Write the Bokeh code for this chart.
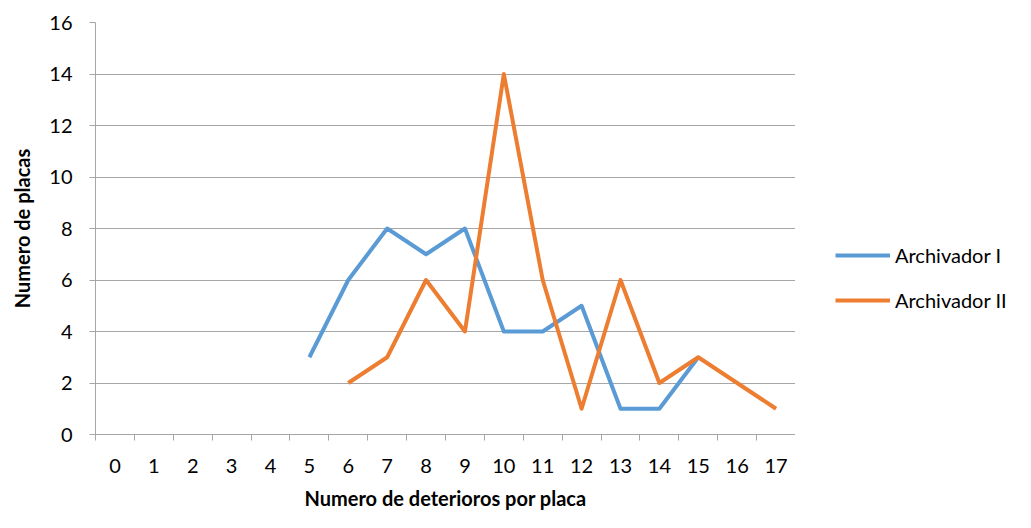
import numpy as np
from bokeh.plotting import figure
from bokeh.layouts import row
from bokeh.models import Range1d, FixedTicker, Legend, LegendItem, ColumnDataSource
from bokeh.embed import file_html
from bokeh.resources import INLINE

categories = list(range(0, 18))
tick_labels = [str(c) for c in categories]
series_names = ["Archivador I", "Archivador II"]
archivador_1 = [None, None, None, None, None, 3, 6, 8, 7, 8, 4, 4, 5, 1, 1, 3, None, None]
archivador_2 = [None, None, None, None, None, None, 2, 3, 6, 4, 14, 6, 1, 6, 2, 3, 2, 1]
y_ticks = [0, 2, 4, 6, 8, 10, 12, 14, 16]

FONT = "Lato"
GRID = "#a6a6a6"
COLORS = ["#5B9BD5", "#ED7D31"]

def arr(v):
    return np.array([np.nan if a is None else a for a in v], dtype=float)

p = figure(width=795, height=512, output_backend="svg", toolbar_location=None,
           x_range=Range1d(-0.5, 17.5), y_range=Range1d(0, 16),
           min_border_left=95, min_border_right=0, min_border_top=22, min_border_bottom=78)
p.outline_line_color = None
p.background_fill_color = "white"

src = ColumnDataSource(dict(x=categories, a=arr(archivador_1), b=arr(archivador_2)))
p.line("x", "a", source=src, line_color=COLORS[0], line_width=4, line_join="round")
p.line("x", "b", source=src, line_color=COLORS[1], line_width=4, line_join="round")

# x axis
xt = FixedTicker(ticks=categories, minor_ticks=[c - 0.5 for c in categories] + [17.5])
p.xaxis.ticker = xt
p.xaxis.major_label_overrides = {c: l for c, l in zip(categories, tick_labels)}
p.xaxis.major_tick_line_color = None
p.xaxis.major_tick_out = 0
p.xaxis.major_tick_in = 0
p.xaxis.minor_tick_line_color = GRID
p.xaxis.minor_tick_out = 6
p.xaxis.minor_tick_in = 0
p.xaxis.axis_line_color = GRID
p.xaxis.major_label_standoff = 18
p.xaxis.axis_label = "Numero de deterioros por placa"
p.xaxis.axis_label_standoff = 10
p.xgrid.visible = False

# y axis
p.yaxis.ticker = FixedTicker(ticks=y_ticks)
p.yaxis.major_tick_line_color = GRID
p.yaxis.major_tick_out = 6
p.yaxis.major_tick_in = 0
p.yaxis.minor_tick_line_color = None
p.yaxis.axis_line_color = GRID
p.yaxis.major_label_standoff = 17
p.yaxis.axis_label = "Numero de placas"
p.yaxis.axis_label_standoff = 12
p.ygrid.grid_line_color = GRID
p.ygrid.grid_line_width = 1

for ax in [p.xaxis[0], p.yaxis[0]]:
    ax.major_label_text_font = FONT
    ax.major_label_text_font_size = "20px"
    ax.major_label_text_color = "#000000"
    ax.axis_label_text_font = FONT
    ax.axis_label_text_font_size = "20px"
    ax.axis_label_text_font_style = "bold"
    ax.axis_label_text_color = "#000000"

# legend panel (separate figure so the legend is not clipped)
p2 = figure(width=220, height=512, output_backend="svg", toolbar_location=None,
            x_range=Range1d(0, 1), y_range=Range1d(0, 1), min_border=0)
p2.axis.visible = False
p2.grid.visible = False
p2.outline_line_color = None
items = []
for name, col in zip(series_names, COLORS):
    r = p2.line(x=[np.nan], y=[np.nan], line_color=col, line_width=4)
    items.append(LegendItem(label=name, renderers=[r]))
legend = Legend(items=items, location=(40, 122),
                glyph_width=55, glyph_height=20, label_height=20,
                spacing=21, padding=0, margin=0, label_standoff=5,
                label_text_font=FONT, label_text_font_size="20px",
                label_text_color="#000000",
                border_line_color=None, background_fill_alpha=0)
p2.add_layout(legend, "center")

open("out.html", "w").write(file_html(row(p, p2, spacing=0), INLINE))
